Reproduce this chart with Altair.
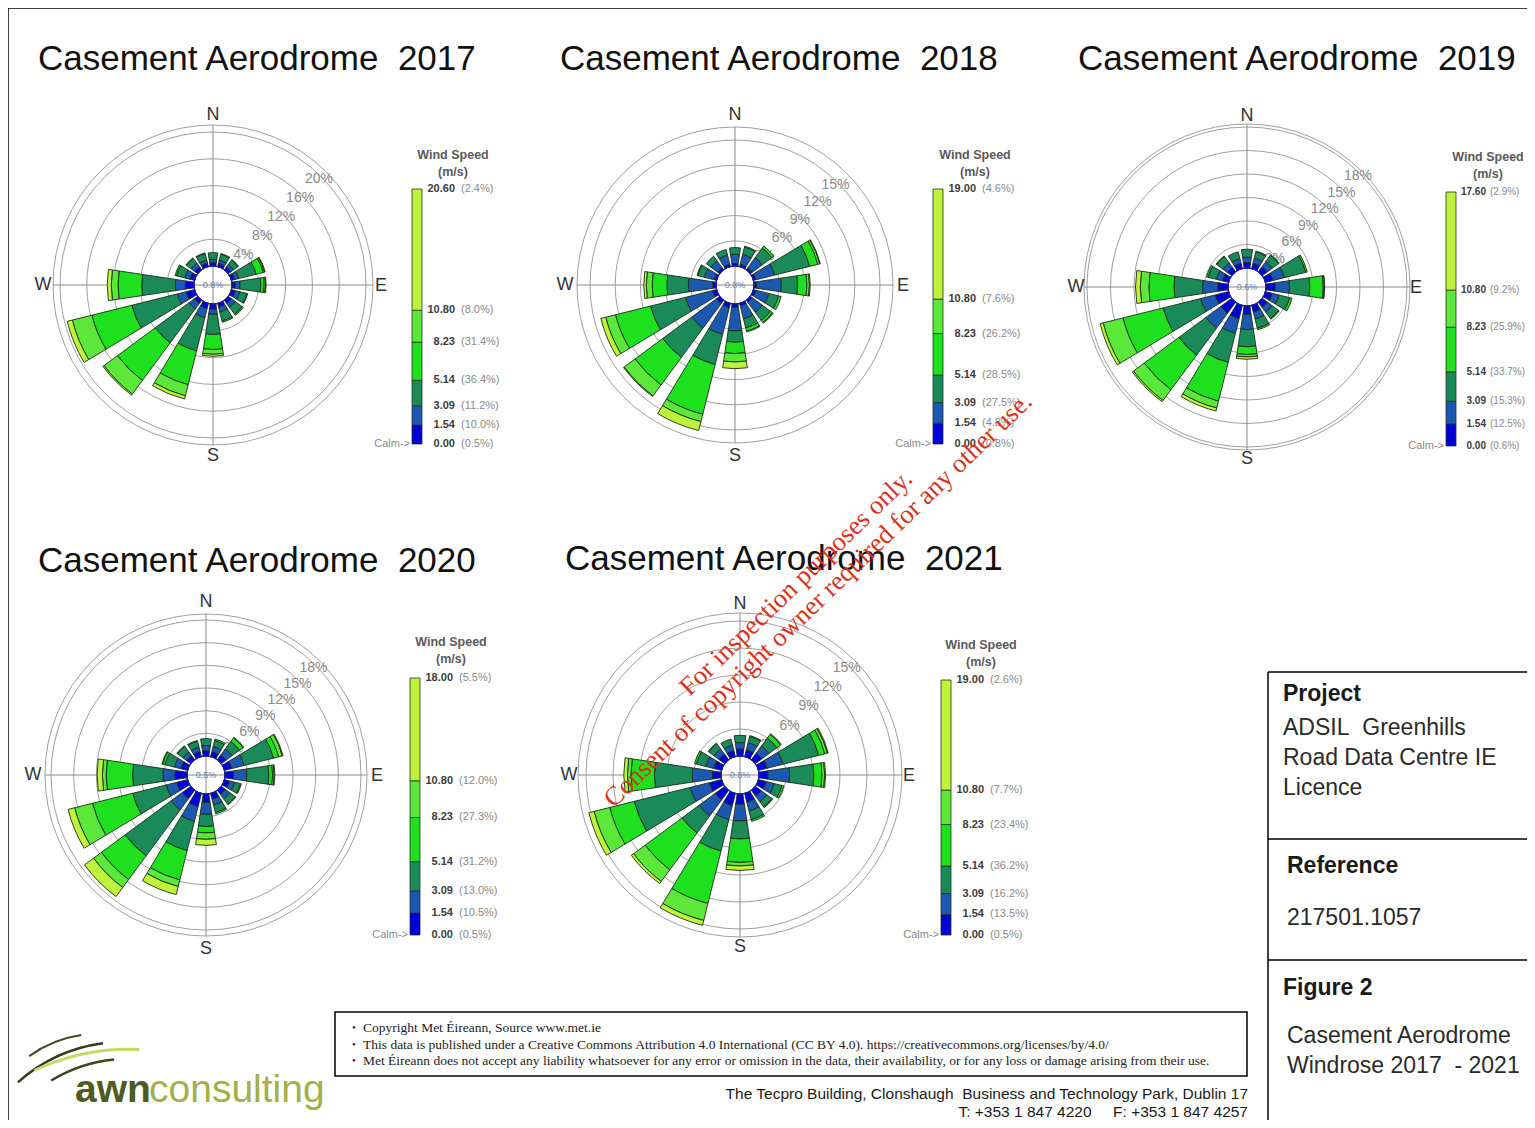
import math
import altair as alt
import pandas as pd

# ------------------------------------------------------------------ data
DIRS = ["N", "NNE", "NE", "ENE", "E", "ESE", "SE", "SSE",
        "S", "SSW", "SW", "WSW", "W", "WNW", "NW", "NNW"]
DIR_DEG = [0, 22.5, 45, 67.5, 90, 112.5, 135, 157.5,
           180, 202.5, 225, 247.5, 270, 292.5, 315, 337.5]
CLASSES = ["0.00-1.54", "1.54-3.09", "3.09-5.14", "5.14-8.23", "8.23-10.80", ">=10.80"]
COLORS = ["#0000D8", "#1C58B0", "#1A8A58", "#1EE01E", "#5BE83A", "#BFF23A"]

# frequency (%) per direction (N..NNW) per speed class, read from the roses
FREQ = {
    2017: {
        "0.00-1.54":  [.5, .5, .5, .5, .5, .6, .6, .6, .8, .8, .6, 1.3, 1.3, .7, .6, .5],
        "1.54-3.09":  [.5, .5, .5, .6, .7, .7, .7, .7, .75, 1.4, 1.0, 1.35, 1.5, .8, .6, .5],
        "3.09-5.14":  [1.0, .9, .8, 2.7, 3.1, 1.1, 1.3, 1.4, 3.0, 5.1, 6.3, 7.0, 5.0, 1.3, .9, 1.0],
        "5.14-8.23":  [0, .1, .1, 1.1, .5, .1, .2, .2, 2.25, 5.2, 7.0, 6.15, 3.55, .2, .1, .1],
        "8.23-10.80": [0, 0, 0, .2, .2, 0, 0, 0, .7, 1.7, 2.5, 3.0, 1.0, 0, 0, 0],
        ">=10.80":    [0, 0, 0, .1, .1, 0, 0, 0, .3, .5, .2, .8, .6, 0, 0, 0],
    },
    2018: {
        "0.00-1.54":  [.3, .3, .3, .3, .3, .3, .3, .3, .4, .5, .5, .5, .4, .3, .3, .3],
        "1.54-3.09":  [1.1, 1.2, 1.5, 2.3, 2.95, 1.6, 1.5, 1.6, 2.8, 3.3, 3.65, 3.3, 2.9, 1.2, 1.0, 1.1],
        "3.09-5.14":  [.8, .9, 1.4, 4.3, 1.95, 1.2, 1.2, 1.1, 1.35, 3.7, 4.3, 4.3, 2.55, .8, .7, .7],
        "5.14-8.23":  [0, .1, .3, 1.0, 1.1, .3, .3, .4, 1.35, 6.1, 4.1, 4.3, 1.75, .1, 0, 0],
        "8.23-10.80": [0, 0, 0, .25, .3, 0, .1, .1, 1.0, .9, 1.6, 1.2, .7, 0, 0, 0],
        ">=10.80":    [0, 0, 0, .05, .1, 0, 0, 0, .8, 1.1, .1, .6, .3, 0, 0, 0],
    },
    2019: {
        "0.00-1.54":  [.7, .7, .8, 1.0, 1.2, .9, .8, .9, 1.1, 1.75, 1.75, 1.75, 1.3, .8, .7, .7],
        "1.54-3.09":  [.7, .7, .8, 1.5, 1.8, .9, .8, .9, 1.9, 1.92, 2.35, 1.92, 1.95, .8, .7, .6],
        "3.09-5.14":  [1.0, .8, 1.0, 2.8, 2.6, 1.4, 1.0, 1.2, 2.2, 3.83, 4.3, 4.93, 3.65, 1.1, 1.0, .9],
        "5.14-8.23":  [0, .1, .1, .2, 1.7, .3, .1, .2, 1.0, 5.1, 5.5, 5.3, 3.2, .2, .1, 0],
        "8.23-10.80": [0, 0, 0, 0, .15, 0, 0, 0, .3, .9, 1.7, 2.6, 1.1, 0, 0, 0],
        ">=10.80":    [0, 0, 0, 0, .05, 0, 0, 0, .3, .4, .2, .4, .6, 0, 0, 0],
    },
    2020: {
        "0.00-1.54":  [.7, .7, .8, 1.0, 1.15, .7, .7, .8, 1.15, 1.8, 1.38, 1.47, 1.6, .9, .7, .7],
        "1.54-3.09":  [.7, .7, 1.0, 1.7, 1.75, .7, .7, .8, 1.55, 2.0, 1.86, 1.43, 1.6, .9, .6, .6],
        "3.09-5.14":  [.9, .8, 1.2, 4.0, 2.9, .8, .9, 1.0, 1.6, 4.0, 7.56, 4.6, 4.0, 1.3, .9, .8],
        "5.14-8.23":  [0, .2, .6, .7, .5, .1, .1, .2, .85, 4.0, 3.9, 5.47, 3.5, .3, .1, .1],
        "8.23-10.80": [0, 0, .1, .5, .2, 0, 0, 0, .85, .9, 1.3, 2.43, .5, .1, 0, 0],
        ">=10.80":    [0, 0, 0, .1, .1, 0, 0, 0, .8, 1.1, 1.5, .9, .7, 0, 0, 0],
    },
    2021: {
        "0.00-1.54":  [.8, .8, .9, 1.0, 1.0, .9, .8, 1.0, 1.15, 1.4, 1.33, 1.4, .96, .9, .8, .7],
        "1.54-3.09":  [.7, .8, 1.0, 1.8, 2.4, .9, .8, 1.0, 1.85, 1.6, 2.22, 2.2, 2.24, .9, .7, .6],
        "3.09-5.14":  [.8, .7, 1.1, 4.1, 2.7, .9, .7, 1.0, 2.0, 3.6, 2.35, 6.4, 4.2, 1.1, .7, .7],
        "5.14-8.23":  [0, .1, .5, .7, .9, .2, .1, .2, 2.6, 6.0, 5.1, 2.8, 2.6, .2, .1, 0],
        "8.23-10.80": [0, 0, .1, .3, .3, 0, 0, 0, .4, 1.95, 1.6, 1.8, .4, 0, 0, 0],
        ">=10.80":    [0, 0, 0, .1, .1, 0, 0, 0, .5, .55, .3, .6, .4, 0, 0, 0],
    },
}
YEARS = [2017, 2018, 2019, 2020, 2021]
RINGS = {
    2017: [4, 8, 12, 16, 20],
    2018: [3, 6, 9, 12, 15],
    2019: [3, 6, 9, 12, 15, 18],
    2020: [3, 6, 9, 12, 15, 18],
    2021: [3, 6, 9, 12, 15],
}
CALM = {2017: "0.8%", 2018: "0.8%", 2019: "0.6%", 2020: "0.5%", 2021: "0.8%"}
LEG_BOUNDS = [0.00, 1.54, 3.09, 5.14, 8.23, 10.80]
LEG_VMAX = {2017: 20.60, 2018: 19.00, 2019: 17.60, 2020: 18.00, 2021: 19.00}
LEG_PCT = {
    2017: ["0.5%", "10.0%", "11.2%", "36.4%", "31.4%", "8.0%", "2.4%"],
    2018: ["0.8%", "4.8%", "27.5%", "28.5%", "26.2%", "7.6%", "4.6%"],
    2019: ["0.6%", "12.5%", "15.3%", "33.7%", "25.9%", "9.2%", "2.9%"],
    2020: ["0.5%", "10.5%", "13.0%", "31.2%", "27.3%", "12.0%", "5.5%"],
    2021: ["0.5%", "13.5%", "16.2%", "36.2%", "23.4%", "7.7%", "2.6%"],
}
DISCLAIMER = [
    "Copyright Met \u00c9ireann, Source www.met.ie",
    "This data is published under a Creative Commons Attribution 4.0 International (CC BY 4.0). https://creativecommons.org/licenses/by/4.0/",
    "Met \u00c9ireann does not accept any liability whatsoever for any error or omission in the data, their availability, or for any loss or damage arising from their use.",
]
NB = "\u00a0"

# ------------------------------------------------------------------ layout (image pixel coords)
OFF = 8
W, H = 1519, 1112
ROSE_LAYOUT = {
    2017: dict(cx=213, cy=285, r0=19, rtop=153, bound=160, cr=170, tx=38, ty=59),
    2018: dict(cx=735, cy=285, r0=19, rtop=145, bound=158, cr=170, tx=560, ty=59),
    2019: dict(cx=1247, cy=287, r0=19, rtop=160, bound=163, cr=171, tx=1078, ty=59),
    2020: dict(cx=206, cy=775, r0=19, rtop=155, bound=161, cr=173, tx=38, ty=561),
    2021: dict(cx=740, cy=775, r0=19, rtop=154, bound=162, cr=171, tx=565, ty=559),
}
LEG_LAYOUT = {
    2017: dict(x0=412, x1=422, top=189, bottom=444, tx=453, ty=155, nx=33, px=39, fs=11),
    2018: dict(x0=933, x1=943, top=189, bottom=444, tx=975, ty=155, nx=33, px=39, fs=11),
    2019: dict(x0=1446, x1=1456, top=192, bottom=446, tx=1488, ty=157, nx=30, px=34, fs=10),
    2020: dict(x0=410, x1=420, top=678, bottom=935, tx=451, ty=642, nx=33, px=39, fs=11),
    2021: dict(x0=941, x1=951, top=680, bottom=935, tx=981, ty=645, nx=33, px=39, fs=11),
}
HALF = 8.5  # half angular width of a sector (deg)

THETA = alt.Scale(domain=[0, 360], range=[0, 2 * math.pi])
CSCALE = alt.Scale(domain=CLASSES, range=COLORS)
ONE = pd.DataFrame({"k": [0]})
SANS = "Liberation Sans"
SERIF = "Liberation Serif"
FULL = 2 * math.pi


def V(v):
    return alt.value(v - OFF)


def text(s, x, y, size=12, color="#222222", font=SANS, weight="normal",
         align="left", baseline="middle", angle=0):
    return alt.Chart(ONE).mark_text(
        text=s, fontSize=size, color=color, font=font, fontWeight=weight,
        align=align, baseline=baseline, angle=angle
    ).encode(x=V(x), y=V(y))


def rule(x1, y1, x2, y2, color="#000000", w=1.0):
    return alt.Chart(ONE).mark_rule(color=color, strokeWidth=w).encode(
        x=V(x1), y=V(y1), x2=V(x2), y2=V(y2))


def rose(year):
    L = ROSE_LAYOUT[year]
    cx, cy, b = L["cx"], L["cy"], L["bound"]
    rs = alt.Scale(type="linear", domain=[0, RINGS[year][-1]], range=[L["r0"], L["rtop"]])
    pos = dict(x=V(cx), y=V(cy))

    rings = alt.Chart(pd.DataFrame({"pct": RINGS[year]})).mark_arc(
        theta=0, theta2=FULL, fillOpacity=0, stroke="#a0a0a0", strokeWidth=1
    ).encode(radius=alt.Radius("pct:Q", scale=rs, stack=False), **pos)
    boundary = alt.Chart(ONE).mark_arc(
        theta=0, theta2=FULL, radius=b, fillOpacity=0, stroke="#a0a0a0", strokeWidth=1
    ).encode(**pos)
    hline = rule(cx - b, cy, cx + b, cy, color="#8c8c8c", w=1)
    vline = rule(cx, cy - b, cx, cy + b, color="#8c8c8c", w=1)

    labdf = pd.DataFrame({"pct": RINGS[year], "lab": [f"{v}%" for v in RINGS[year]]})
    labels = alt.Chart(labdf).mark_text(
        fontSize=14, color="#8a8a8a", font=SANS, theta=math.pi / 4, radiusOffset=-3
    ).encode(radius=alt.Radius("pct:Q", scale=rs, stack=False), text="lab:N", **pos)

    rows = []
    for i, (d, deg) in enumerate(zip(DIRS, DIR_DEG)):
        cum = 0.0
        for c in CLASSES:
            v = FREQ[year][c][i]
            if v > 0:
                rows.append(dict(dir=d, deg=deg, cls=c, lo=cum, hi=cum + v))
            cum += v
    sect = alt.Chart(pd.DataFrame(rows)).transform_calculate(
        t0=f"datum.deg - {HALF}", t1=f"datum.deg + {HALF}"
    ).mark_arc(stroke="#1a2e1a", strokeWidth=0.9).encode(
        theta=alt.Theta("t0:Q", scale=THETA, stack=False),
        theta2="t1:Q",
        radius=alt.Radius("hi:Q", scale=rs, stack=False),
        radius2="lo:Q",
        color=alt.Color("cls:N", scale=CSCALE, legend=None),
        **pos,
    )
    calm = alt.Chart(pd.DataFrame({"pct": [0]})).mark_arc(
        theta=0, theta2=FULL, fill="#8FCBEF", stroke="#1a1aa0", strokeWidth=1
    ).encode(radius=alt.Radius("pct:Q", scale=rs, stack=False), **pos)
    calmtxt = text(CALM[year], cx, cy, size=9, color="#6880a6", align="center")

    cr = L["cr"]
    compass = [
        text("N", cx, cy - cr, size=18, color="#333333", align="center"),
        text("S", cx, cy + cr + 1, size=18, color="#333333", align="center"),
        text("E", cx + cr - 2, cy + 1, size=18, color="#333333", align="center"),
        text("W", cx - cr, cy, size=18, color="#333333", align="center"),
    ]
    title = text(f"Casement Aerodrome {NB}{year}", L["tx"], L["ty"], size=35, color="#111111")

    # legend colour bar
    G = LEG_LAYOUT[year]
    vmax = LEG_VMAX[year]
    ys = alt.Scale(domain=[0, vmax], range=[G["bottom"] - OFF, G["top"] - OFF])
    bounds = LEG_BOUNDS + [vmax]
    seg = pd.DataFrame({"cls": CLASSES, "lo": bounds[:-1], "hi": bounds[1:]})
    bar = alt.Chart(seg).mark_rect(stroke="#243224", strokeWidth=0.8).encode(
        x=V(G["x0"]), x2=V(G["x1"]),
        y=alt.Y("lo:Q", scale=ys, axis=None), y2="hi:Q",
        color=alt.Color("cls:N", scale=CSCALE, legend=None),
    )
    labs = pd.DataFrame({"v": bounds,
                         "num": [f"{v:.2f}" for v in bounds],
                         "pct": [f"({p})" for p in LEG_PCT[year]]})
    nums = alt.Chart(labs).mark_text(
        align="right", fontSize=G["fs"], fontWeight="bold", color="#3c3c3c", font=SANS
    ).encode(x=V(G["x1"] + G["nx"]), y=alt.Y("v:Q", scale=ys, axis=None), text="num:N")
    pcts = alt.Chart(labs).mark_text(
        align="left", fontSize=G["fs"], color="#8a8a8a", font=SANS
    ).encode(x=V(G["x1"] + G["px"]), y=alt.Y("v:Q", scale=ys, axis=None), text="pct:N")
    lt1 = text("Wind Speed", G["tx"], G["ty"], size=12.5, weight="bold", color="#5a5a5a", align="center")
    lt2 = text("(m/s)", G["tx"], G["ty"] + 17, size=12.5, weight="bold", color="#5a5a5a", align="center")
    calmlab = text("Calm->", G["x0"] - 2, G["bottom"], size=11, color="#8a8a8a", align="right")

    return alt.layer(rings, boundary, hline, vline, labels, sect, calm, calmtxt,
                     *compass, title, bar, nums, pcts, lt1, lt2, calmlab)


def swoosh(p1, p2, R, w, color):
    (x1, y1), (x2, y2) = p1, p2
    mx, my = (x1 + x2) / 2, (y1 + y2) / 2
    dx, dy = x2 - x1, y2 - y1
    Lc = math.hypot(dx, dy)
    tm = math.atan2(dy / Lc, dx / Lc)
    delta = math.asin(min(0.99, Lc / (2 * R)))
    ccx, ccy = mx - R * math.sin(tm), my + R * math.cos(tm)
    a = (tm - delta) % FULL
    bb = a + 2 * delta
    return alt.Chart(ONE).mark_arc(
        theta=a, theta2=bb, radius=R + w / 2, radius2=R - w / 2, color=color
    ).encode(x=V(ccx), y=V(ccy))


layers = []
# page frame
layers.append(rule(8, 8, 1535, 8, w=1.5))
layers.append(rule(8, 8, 8, 1128, w=1.5))

for yr in YEARS:
    layers.append(rose(yr))

# info box
layers += [
    rule(1268, 672, 1535, 672, w=1.5),
    rule(1268, 672, 1268, 1128, w=1.5),
    rule(1268, 839, 1535, 839, w=1.5),
    rule(1268, 960, 1535, 960, w=1.5),
    text("Project", 1283, 694, size=23, weight="bold", color="#1a1a1a"),
    text(f"ADSIL{NB} Greenhills", 1283, 728, size=23, color="#2a2a2a"),
    text("Road Data Centre IE", 1283, 758, size=23, color="#2a2a2a"),
    text("Licence", 1283, 788, size=23, color="#2a2a2a"),
    text("Reference", 1287, 866, size=23, weight="bold", color="#1a1a1a"),
    text("217501.1057", 1287, 918, size=23, color="#2a2a2a"),
    text("Figure 2", 1283, 988, size=23, weight="bold", color="#1a1a1a"),
    text("Casement Aerodrome", 1287, 1036, size=23, color="#2a2a2a"),
    text(f"Windrose 2017 {NB}- 2021", 1287, 1066, size=23, color="#2a2a2a"),
]

# disclaimer box
layers.append(alt.Chart(ONE).mark_rect(fillOpacity=0, stroke="#000000", strokeWidth=1.5).encode(
    x=V(335), x2=V(1247), y=V(1012), y2=V(1076)))
for i, line in enumerate(DISCLAIMER):
    yy = 1028 + i * 16.5
    layers.append(text("\u2022", 352, yy, size=11, font=SERIF, color="#222222"))
    layers.append(text(line, 363, yy, size=13.5, font=SERIF, color="#222222"))

# address
layers.append(text(f"The Tecpro Building, Clonshaugh{NB} Business and Technology Park, Dublin 17",
                   1248, 1094, size=15.5, color="#1a1a1a", align="right"))
layers.append(text(f"T: +353 1 847 4220 {NB}{NB}{NB} F: +353 1 847 4257",
                   1248, 1112, size=15.5, color="#1a1a1a", align="right"))

# logo
layers += [
    swoosh((15, 1076), (100, 1037), 160, 2.5, "#2f3d1a"),
    swoosh((28, 1053), (80, 1032), 120, 2.0, "#3d4d22"),
    swoosh((33, 1064), (138, 1043), 220, 3.0, "#c9d865"),
    swoosh((50, 1077), (113, 1056), 150, 2.5, "#3a4820"),
    text("awn", 75, 1090, size=39, weight="bold", color="#4d5a22"),
    text("consulting", 149, 1090, size=39, color="#a3b04a"),
]

# watermark
layers.append(text("For inspection purposes only.", 796, 583, size=26.5, font=SERIF,
                   color="#d8321e", align="center", angle=316))
layers.append(text("Consent of copyright owner required for any other use.", 818, 600, size=26.5,
                   font=SERIF, color="#d8321e", align="center", angle=316))

chart = alt.layer(*layers).resolve_scale(
    radius="independent", y="independent"
).properties(
    width=W, height=H, padding=0, autosize=alt.AutoSizeParams(type="none")
).configure_view(stroke=None)

chart.save("out.html", embed_options={"renderer": "svg", "actions": False})
